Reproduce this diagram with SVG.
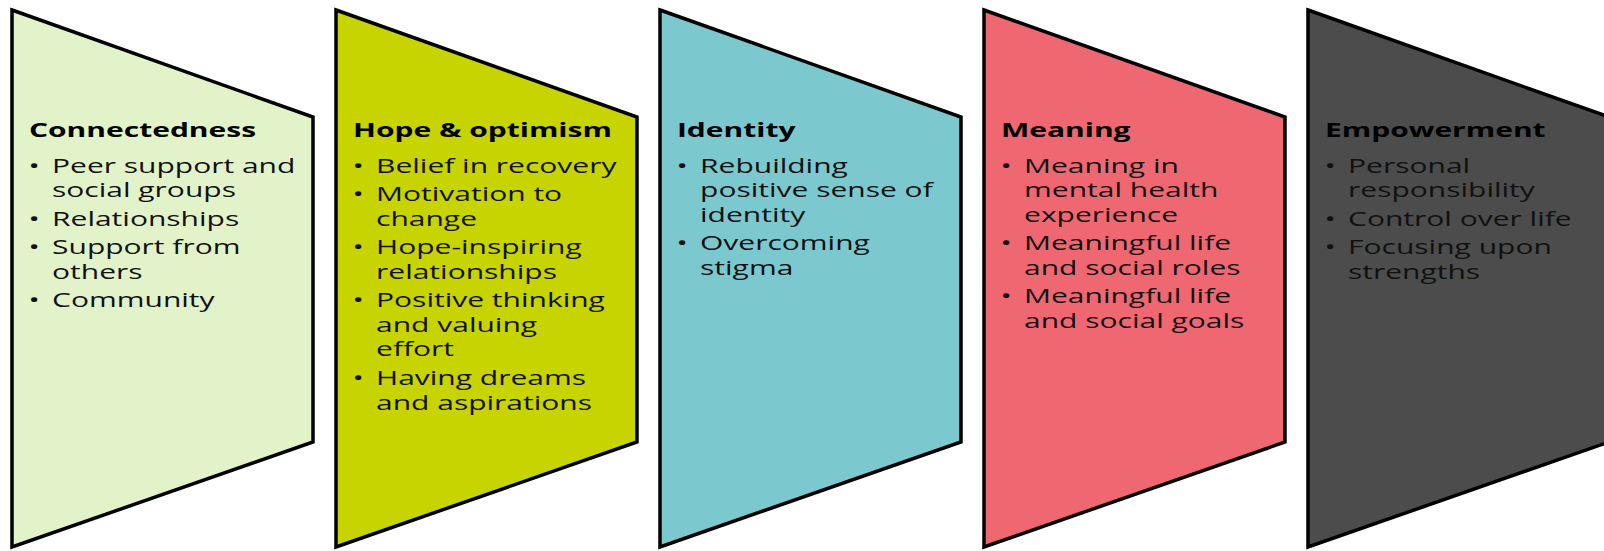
<svg xmlns="http://www.w3.org/2000/svg" width="1604" height="551" viewBox="0 0 1604 551">
<style>
.shape{stroke:#000;stroke-width:3.5;stroke-linejoin:miter}
.t{font-family:"Open Sans","Noto Sans","DejaVu Sans",sans-serif;font-size:20px;fill:#111}
.h{font-weight:700;fill:#000}
</style>
<defs>
<polygon id="trap" points="0,10 301,117 301,442 0,547"/>
</defs>
<rect width="1604" height="551" fill="#fff"/>
<g id="connectors"></g>

<g id="node-connectedness" transform="translate(12,0)">
<use href="#trap" class="shape" fill="#e3f3c9"/>
<g transform="scale(1.5,1)">
<text class="t h" x="11.3" y="136.7">Connectedness</text>
<text class="t" x="11" y="172.7">•</text>
<text class="t" x="26.7" y="172.7">Peer support and</text>
<text class="t" x="26.7" y="197.2">social groups</text>
<text class="t" x="11" y="225.8">•</text>
<text class="t" x="26.7" y="225.8">Relationships</text>
<text class="t" x="11" y="254.4">•</text>
<text class="t" x="26.7" y="254.4">Support from</text>
<text class="t" x="26.7" y="278.9">others</text>
<text class="t" x="11" y="307.5">•</text>
<text class="t" x="26.7" y="307.5">Community</text>
</g>
</g>

<g id="node-hope" transform="translate(336,0)">
<use href="#trap" class="shape" fill="#c8d400"/>
<g transform="scale(1.5,1)">
<text class="t h" x="11.3" y="136.7">Hope &amp; optimism</text>
<text class="t" x="11" y="172.7">•</text>
<text class="t" x="26.7" y="172.7">Belief in recovery</text>
<text class="t" x="11" y="201.3">•</text>
<text class="t" x="26.7" y="201.3">Motivation to</text>
<text class="t" x="26.7" y="225.8">change</text>
<text class="t" x="11" y="254.4">•</text>
<text class="t" x="26.7" y="254.4">Hope-inspiring</text>
<text class="t" x="26.7" y="278.9">relationships</text>
<text class="t" x="11" y="307.5">•</text>
<text class="t" x="26.7" y="307.5">Positive thinking</text>
<text class="t" x="26.7" y="332">and valuing</text>
<text class="t" x="26.7" y="356.5">effort</text>
<text class="t" x="11" y="385.1">•</text>
<text class="t" x="26.7" y="385.1">Having dreams</text>
<text class="t" x="26.7" y="409.6">and aspirations</text>
</g>
</g>

<g id="node-identity" transform="translate(660,0)">
<use href="#trap" class="shape" fill="#7bc8cf"/>
<g transform="scale(1.5,1)">
<text class="t h" x="11.3" y="136.7">Identity</text>
<text class="t" x="11" y="172.7">•</text>
<text class="t" x="26.7" y="172.7">Rebuilding</text>
<text class="t" x="26.7" y="197.2">positive sense of</text>
<text class="t" x="26.7" y="221.7">identity</text>
<text class="t" x="11" y="250.3">•</text>
<text class="t" x="26.7" y="250.3">Overcoming</text>
<text class="t" x="26.7" y="274.8">stigma</text>
</g>
</g>

<g id="node-meaning" transform="translate(984,0)">
<use href="#trap" class="shape" fill="#ef6771"/>
<g transform="scale(1.5,1)">
<text class="t h" x="11.3" y="136.7">Meaning</text>
<text class="t" x="11" y="172.7">•</text>
<text class="t" x="26.7" y="172.7">Meaning in</text>
<text class="t" x="26.7" y="197.2">mental health</text>
<text class="t" x="26.7" y="221.7">experience</text>
<text class="t" x="11" y="250.3">•</text>
<text class="t" x="26.7" y="250.3">Meaningful life</text>
<text class="t" x="26.7" y="274.8">and social roles</text>
<text class="t" x="11" y="303.4">•</text>
<text class="t" x="26.7" y="303.4">Meaningful life</text>
<text class="t" x="26.7" y="327.9">and social goals</text>
</g>
</g>

<g id="node-empowerment" transform="translate(1308,0)">
<use href="#trap" class="shape" fill="#4b4c4b"/>
<g transform="scale(1.5,1)">
<text class="t h" x="11.3" y="136.7">Empowerment</text>
<text class="t" x="11" y="172.7">•</text>
<text class="t" x="26.7" y="172.7">Personal</text>
<text class="t" x="26.7" y="197.2">responsibility</text>
<text class="t" x="11" y="225.8">•</text>
<text class="t" x="26.7" y="225.8">Control over life</text>
<text class="t" x="11" y="254.4">•</text>
<text class="t" x="26.7" y="254.4">Focusing upon</text>
<text class="t" x="26.7" y="278.9">strengths</text>
</g>
</g>
</svg>
